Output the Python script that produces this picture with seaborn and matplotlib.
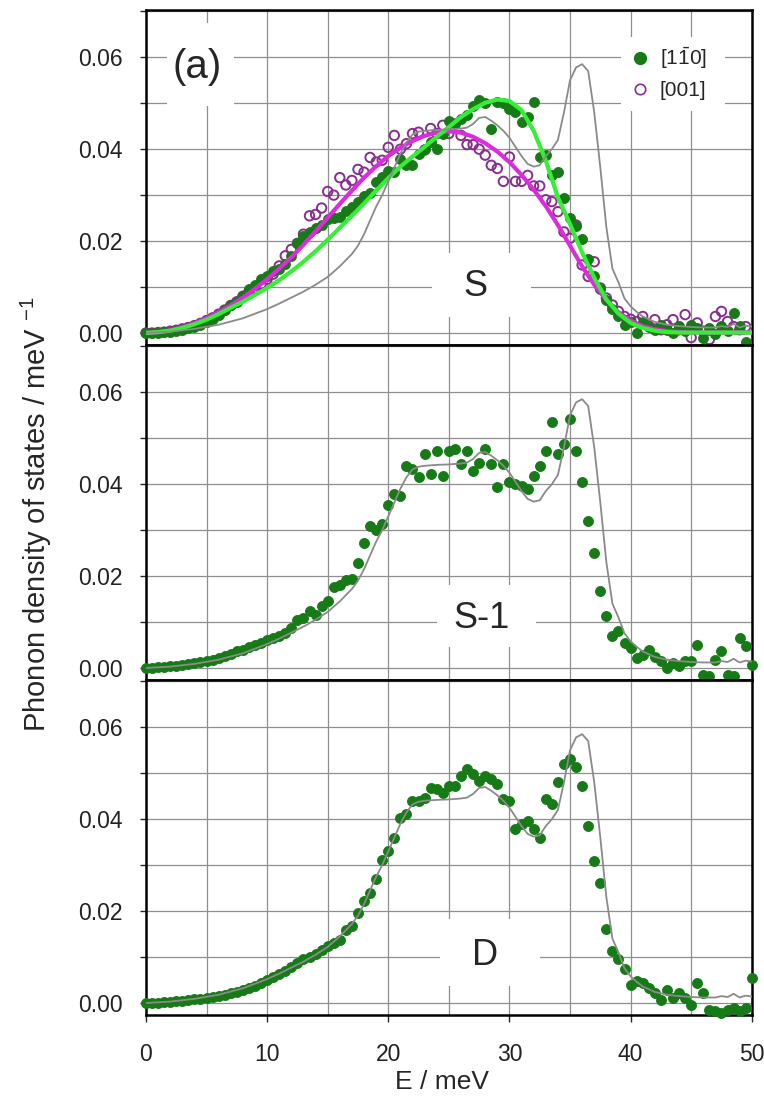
import numpy as np
import matplotlib
matplotlib.use("Agg")
import matplotlib.pyplot as plt
import seaborn as sns
from matplotlib.lines import Line2D
from matplotlib.patches import Rectangle
from matplotlib.ticker import MultipleLocator, FormatStrFormatter

# ---------------------------------------------------------------- data
# measured points on a 0.5 meV energy grid
E_pts = np.arange(0.0, 50.0, 0.5)          # panel S (100 points)
E_pts_full = np.arange(0.0, 50.01, 0.5)    # panels S-1 and D (101 points)

S_110 = [
    0.0000, 0.0000, 0.0001, 0.0002, 0.0003, 0.0005, 0.0007, 0.0010, 0.0014, 0.0018,
    0.0024, 0.0031, 0.0040, 0.0050, 0.0060, 0.0068, 0.0080, 0.0095, 0.0105, 0.0118,
    0.0125, 0.0134, 0.0140, 0.0150, 0.0168, 0.0195, 0.0210, 0.0220, 0.0228, 0.0235,
    0.0248, 0.0250, 0.0253, 0.0265, 0.0275, 0.0286, 0.0298, 0.0305, 0.0328, 0.0340,
    0.0352, 0.0350, 0.0378, 0.0366, 0.0365, 0.0390, 0.0400, 0.0416, 0.0400, 0.0432,
    0.0462, 0.0455, 0.0466, 0.0474, 0.0495, 0.0506, 0.0500, 0.0445, 0.0502, 0.0500,
    0.0488, 0.0480, 0.0460, 0.0470, 0.0502, 0.0383, 0.0387, 0.0343, 0.0350, 0.0293,
    0.0250, 0.0232, 0.0205, 0.0160, 0.0125, 0.0095, 0.0072, 0.0052, 0.0038, 0.0018,
    0.0025, 0.0000, 0.0025, 0.0014, 0.0007, 0.0018, 0.0007, 0.0000, 0.0015, 0.0004,
    0.0018, 0.0010, -0.0010, 0.0010, -0.0003, 0.0015, 0.0004, 0.0043, 0.0015, -0.0020,
]

S_001 = [
    0.0000, 0.0000, 0.0001, 0.0002, 0.0004, 0.0006, 0.0009, 0.0012, 0.0016, 0.0021,
    0.0027, 0.0033, 0.0041, 0.0050, 0.0060, 0.0068, 0.0080, 0.0090, 0.0098, 0.0106,
    0.0117, 0.0128, 0.0146, 0.0168, 0.0182, 0.0195, 0.0215, 0.0255, 0.0258, 0.0272,
    0.0308, 0.0300, 0.0338, 0.0322, 0.0332, 0.0356, 0.0350, 0.0382, 0.0372, 0.0376,
    0.0404, 0.0430, 0.0400, 0.0412, 0.0434, 0.0437, 0.0398, 0.0445, 0.0434, 0.0452,
    0.0434, 0.0455, 0.0430, 0.0410, 0.0410, 0.0400, 0.0387, 0.0365, 0.0358, 0.0330,
    0.0383, 0.0330, 0.0330, 0.0343, 0.0320, 0.0320, 0.0290, 0.0286, 0.0264, 0.0220,
    0.0206, 0.0235, 0.0148, 0.0123, 0.0155, 0.0098, 0.0076, 0.0061, 0.0047, 0.0036,
    0.0030, 0.0025, 0.0036, 0.0015, 0.0029, 0.0007, 0.0018, 0.0029, 0.0007, 0.0040,
    -0.0010, 0.0022, 0.0004, -0.0014, 0.0036, 0.0047, 0.0025, 0.0014, 0.0007, 0.0014,
]

S1_110 = [
    0.0000, 0.0001, 0.0002, 0.0003, 0.0004, 0.0005, 0.0006, 0.0008, 0.0010, 0.0012,
    0.0015, 0.0018, 0.0022, 0.0026, 0.0031, 0.0036, 0.0040, 0.0045, 0.0050, 0.0055,
    0.0060, 0.0065, 0.0070, 0.0076, 0.0087, 0.0105, 0.0109, 0.0124, 0.0116, 0.0135,
    0.0145, 0.0176, 0.0180, 0.0192, 0.0194, 0.0228, 0.0272, 0.0308, 0.0300, 0.0313,
    0.0355, 0.0378, 0.0375, 0.0440, 0.0433, 0.0415, 0.0465, 0.0422, 0.0473, 0.0418,
    0.0473, 0.0476, 0.0444, 0.0473, 0.0429, 0.0447, 0.0476, 0.0444, 0.0393, 0.0444,
    0.0404, 0.0400, 0.0396, 0.0389, 0.0418, 0.0440, 0.0473, 0.0535, 0.0465, 0.0487,
    0.0542, 0.0473, 0.0404, 0.0320, 0.0251, 0.0167, 0.0113, 0.0069, 0.0080, 0.0055,
    0.0044, 0.0022, 0.0029, 0.0040, 0.0025, 0.0015, 0.0000, 0.0011, 0.0004, 0.0015,
    0.0015, 0.0051, -0.0015, -0.0018, 0.0018, 0.0036, -0.0015, -0.0018, 0.0065, 0.0047,
    0.0007,
]

D_110 = [
    0.0000, 0.0001, 0.0001, 0.0002, 0.0003, 0.0004, 0.0005, 0.0006, 0.0008, 0.0009,
    0.0011, 0.0013, 0.0015, 0.0018, 0.0021, 0.0024, 0.0028, 0.0032, 0.0037, 0.0044,
    0.0051, 0.0056, 0.0063, 0.0070, 0.0078, 0.0087, 0.0095, 0.0100, 0.0106, 0.0116,
    0.0125, 0.0131, 0.0137, 0.0158, 0.0168, 0.0195, 0.0222, 0.0240, 0.0270, 0.0312,
    0.0331, 0.0358, 0.0402, 0.0411, 0.0440, 0.0440, 0.0447, 0.0468, 0.0465, 0.0458,
    0.0473, 0.0473, 0.0495, 0.0509, 0.0498, 0.0484, 0.0495, 0.0487, 0.0476, 0.0444,
    0.0440, 0.0378, 0.0389, 0.0396, 0.0378, 0.0360, 0.0444, 0.0433, 0.0480, 0.0520,
    0.0531, 0.0513, 0.0473, 0.0385, 0.0309, 0.0262, 0.0160, 0.0113, 0.0095, 0.0073,
    0.0040, 0.0047, 0.0044, 0.0033, 0.0022, 0.0007, 0.0029, 0.0011, 0.0022, 0.0011,
    -0.0004, 0.0044, 0.0022, -0.0015, -0.0018, -0.0022, -0.0015, -0.0011, -0.0018, -0.0011,
    0.0055,
]

# fitted curves for panel S
fit_E = [0, 1, 2, 3, 4, 5, 6, 7, 8, 9, 10, 11, 12, 13, 14, 15, 16, 17, 18, 19, 20,
         21, 22, 23, 24, 25, 26, 27, 28, 29, 30, 31, 32, 33, 34, 35, 36, 37, 38, 39, 40,
         41, 42, 43, 44, 45, 46, 47, 48, 49, 50]
fit_110 = [0.0000, 0.0002, 0.0005, 0.0011, 0.0019, 0.0029, 0.0041, 0.0055, 0.0068, 0.0083,
           0.0098, 0.0115, 0.0134, 0.0155, 0.0178, 0.0203, 0.0229, 0.0255, 0.0282, 0.0310,
           0.0337, 0.0362, 0.0384, 0.0405, 0.0427, 0.0448, 0.0470, 0.0487, 0.0501, 0.0508,
           0.0505, 0.0485, 0.0440, 0.0375, 0.0295, 0.0237, 0.0175, 0.0120, 0.0073, 0.0042,
           0.0022, 0.0011, 0.0005, 0.0002, 0.0001, 0.0001, 0.0001, 0.0001, 0.0001, 0.0001,
           0.0001]
fit_001 = [0.0000, 0.0002, 0.0006, 0.0012, 0.0021, 0.0032, 0.0045, 0.0060, 0.0077, 0.0096,
           0.0117, 0.0140, 0.0165, 0.0192, 0.0221, 0.0251, 0.0281, 0.0310, 0.0338, 0.0363,
           0.0385, 0.0403, 0.0418, 0.0429, 0.0436, 0.0439, 0.0436, 0.0427, 0.0413, 0.0395,
           0.0372, 0.0344, 0.0312, 0.0276, 0.0235, 0.0190, 0.0145, 0.0105, 0.0072, 0.0045,
           0.0027, 0.0015, 0.0008, 0.0004, 0.0002, 0.0001, 0.0001, 0.0001, 0.0001, 0.0001,
           0.0001]

# calculated density of states (grey reference line)
calc_E = [0, 2, 4, 6, 8, 10, 11, 12, 13, 14, 15, 16, 17, 17.5, 18, 18.5, 19, 19.5, 20,
          20.5, 21, 21.5, 22, 22.5, 23, 24, 25, 26, 26.5, 27, 27.5, 28, 28.5, 29, 29.5,
          30, 30.5, 31, 31.5, 32, 32.5, 33, 33.5, 34, 34.5, 35, 35.5, 36, 36.5, 37, 37.5,
          38, 38.5, 39, 39.5, 40, 40.5, 41, 42, 43, 44, 45, 46, 47, 47.5, 48, 48.5, 49,
          49.5, 50]
calc_dos = [0.0000, 0.0003, 0.0009, 0.0018, 0.0032, 0.0052, 0.0064, 0.0077, 0.0090, 0.0105,
            0.0122, 0.0145, 0.0172, 0.0190, 0.0215, 0.0245, 0.0275, 0.0300, 0.0330, 0.0360,
            0.0390, 0.0415, 0.0432, 0.0438, 0.0440, 0.0442, 0.0443, 0.0445, 0.0447, 0.0455,
            0.0468, 0.0470, 0.0462, 0.0452, 0.0440, 0.0425, 0.0405, 0.0385, 0.0368, 0.0362,
            0.0365, 0.0385, 0.0400, 0.0420, 0.0480, 0.0550, 0.0578, 0.0585, 0.0570, 0.0480,
            0.0360, 0.0230, 0.0140, 0.0110, 0.0075, 0.0058, 0.0046, 0.0036, 0.0024, 0.0018,
            0.0015, 0.0013, 0.0012, 0.0012, 0.0015, 0.0013, 0.0020, 0.0012, 0.0016, 0.0014]

panel_labels = ["S", "S-1", "D"]
legend_labels = ["[1$\\bar{1}$0]", "[001]"]

# ---------------------------------------------------------------- style
GREEN_PT = "#167a16"
PURPLE_PT = "#8a2d90"
GREEN_FIT = "#35ee35"
MAGENTA_FIT = "#de2ade"
GREY = "#8a8a8a"
GRID = "#8f8f8f"

sns.set_style("white")
plt.rcParams["font.family"] = ["Liberation Sans", "DejaVu Sans"]
plt.rcParams["mathtext.fontset"] = "custom"
plt.rcParams["mathtext.rm"] = "Liberation Sans"
plt.rcParams["mathtext.it"] = "Liberation Sans:italic"
plt.rcParams["mathtext.bf"] = "Liberation Sans:bold"

fig = plt.figure(figsize=(7.64, 11.05), dpi=100)
left, width = 0.191, 0.793
bottom, top = 0.0815, 0.991
h = (top - bottom) / 3
axes = [fig.add_axes([left, top - (i + 1) * h, width, h]) for i in range(3)]


def style_axis(ax, show_x):
    ax.set_xlim(0, 50)
    ax.set_ylim(-0.0026, 0.0703)
    ax.xaxis.set_major_locator(MultipleLocator(10))
    ax.xaxis.set_minor_locator(MultipleLocator(5))
    ax.yaxis.set_major_locator(MultipleLocator(0.02))
    ax.yaxis.set_minor_locator(MultipleLocator(0.01))
    ax.yaxis.set_major_formatter(FormatStrFormatter("%.2f"))
    ax.grid(which="both", color=GRID, lw=0.9)
    ax.set_axisbelow(True)
    for sp in ax.spines.values():
        sp.set_color("black")
        sp.set_linewidth(1.8)
    ax.tick_params(axis="y", which="both", direction="out", length=4, width=1,
                   left=True, labelsize=16.5, pad=13, labelcolor="#222222")
    ax.tick_params(axis="x", which="major", direction="out", length=5, width=1,
                   bottom=show_x, labelbottom=show_x, labelsize=16.5, pad=15,
                   labelcolor="#222222")
    ax.tick_params(axis="x", which="minor", bottom=False)
    ax.set_xlabel("")
    ax.set_ylabel("")


def label_box(ax, text, xc, yc, x0, x1, y0, y1):
    ax.add_patch(Rectangle((x0, y0), x1 - x0, y1 - y0,
                           facecolor="white", edgecolor="none", zorder=0.9))
    ax.text(xc, yc, text, fontsize=26, ha="center", va="center", zorder=4)


def green_points(ax, x, y):
    sns.scatterplot(x=x, y=y, ax=ax, color=GREEN_PT, edgecolor=GREEN_PT,
                    linewidth=0.6, s=52, clip_on=False, zorder=3, legend=False)


def grey_line(ax):
    sns.lineplot(x=calc_E, y=calc_dos, ax=ax, color=GREY, lw=1.3,
                 sort=False, estimator=None, zorder=5, legend=False)


# ---- panel S
ax = axes[0]
style_axis(ax, False)
sns.scatterplot(x=E_pts, y=S_001, ax=ax, marker="o", facecolors="none",
                edgecolor=PURPLE_PT, linewidth=1.4, s=46, clip_on=False, zorder=3,
                legend=False)
green_points(ax, E_pts, S_110)
sns.lineplot(x=fit_E, y=fit_001, ax=ax, color=MAGENTA_FIT, lw=3, sort=False,
             estimator=None, zorder=4, legend=False)
sns.lineplot(x=fit_E, y=fit_110, ax=ax, color=GREEN_FIT, lw=3, sort=False,
             estimator=None, zorder=4, legend=False)
grey_line(ax)
label_box(ax, panel_labels[0], 27.2, 0.0101, 23.6, 31.8, 0.0035, 0.0173)
ax.add_patch(Rectangle((1.7, 0.0495), 5.6, 0.0180, facecolor="white",
                       edgecolor="none", zorder=0.9))
ax.text(4.25, 0.0578, "(a)", fontsize=29, ha="center", va="center", zorder=4)
ax.add_patch(Rectangle((39.2, 0.0484), 8.6, 0.0160, facecolor="white",
                       edgecolor="none", zorder=0.9))
handles = [
    Line2D([], [], ls="none", marker="o", ms=8.5, color=GREEN_PT),
    Line2D([], [], ls="none", marker="o", ms=7.5, mfc="none", mec=PURPLE_PT, mew=1.2),
]
ax.legend(handles, legend_labels, loc="center left",
          bbox_to_anchor=(39.9, 0.0567), bbox_transform=ax.transData,
          frameon=False, fontsize=15, handlelength=1.0, handletextpad=0.46,
          labelspacing=0.48, borderpad=0, borderaxespad=0)

# ---- panel S-1
ax = axes[1]
style_axis(ax, False)
green_points(ax, E_pts_full, S1_110)
grey_line(ax)
label_box(ax, panel_labels[1], 27.7, 0.0107, 24.0, 32.2, 0.0046, 0.0181)

# ---- panel D
ax = axes[2]
style_axis(ax, True)
green_points(ax, E_pts_full, D_110)
grey_line(ax)
label_box(ax, panel_labels[2], 28.0, 0.0103, 24.3, 32.5, 0.0036, 0.0182)
ax.set_xlabel("E / meV", fontsize=19)
ax.xaxis.set_label_coords(0.488, -0.2)
ax.xaxis.label.set_va("center")

fig.text(0.048, 0.535, "Phonon density of states / meV $^{-1}$", rotation=90,
         ha="center", va="center", fontsize=21)

fig.savefig("out.png", dpi=100, facecolor="white")
